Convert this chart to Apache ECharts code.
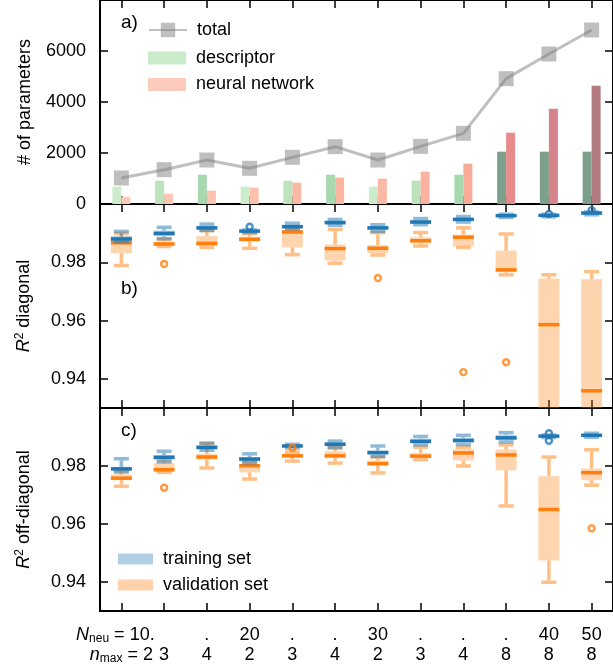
<!DOCTYPE html>
<html>
<head>
<meta charset="utf-8">
<script src="https://cdn.jsdelivr.net/npm/echarts@6.0.0/dist/echarts.min.js"></script>
<style>
html,body{margin:0;padding:0;background:#ffffff;}
#chart{width:613px;height:672px;}
</style>
</head>
<body>
<div id="chart"></div>
<script>
// ---------------- data ----------------
const categories = ['10/2','10/3','10/4','20/2','20/3','20/4','30/2','30/3','30/4','30/8','40/8','50/8'];
const nNeuLabels = ['10.', '', '.', '20', '.', '.', '30', '.', '.', '.', '40', '50'];
const nMaxLabels = ['2','3','4','2','3','4','2','3','4','8','8','8'];

const totalParams      = [1020, 1346, 1725, 1399, 1830, 2248, 1725, 2261, 2771, 4915, 5882, 6824];
const descriptorParams = [ 680,  915, 1150,  680,  915, 1150,  680,  915, 1150, 2052, 2052, 2052];
const networkParams    = [ 288,  405,  523,  641,  837, 1033,  993, 1268, 1582, 2797, 3739, 4641];

const r2Ticks = [0.94, 0.96, 0.98];

// box stats: [lower whisker, Q1, median, Q3, upper whisker]
const diagTrain = [
  [0.9870,0.9874,0.9880,0.9890,0.9906],
  [0.9881,0.9890,0.9899,0.9909,0.9920],
  [0.9909,0.9913,0.9918,0.9925,0.9931],
  [0.9902,0.9905,0.9907,0.9909,0.9911],
  [0.9915,0.9918,0.9922,0.9929,0.9934],
  [0.9927,0.9931,0.9936,0.9943,0.9947],
  [0.9906,0.9911,0.9918,0.9925,0.9929],
  [0.9929,0.9934,0.9938,0.9945,0.9950],
  [0.9938,0.9943,0.9947,0.9953,0.9957],
  [0.9954,0.9957,0.9960,0.9963,0.9965],
  [0.9956,0.9959,0.9961,0.9963,0.9965],
  [0.9963,0.9966,0.9969,0.9971,0.9973]
];
const diagTrainOutliers = [[3,0.9922],[10,0.9966],[11,0.9979]];

const diagVal = [
  [0.9789,0.9831,0.9867,0.9886,0.9899],
  [0.9854,0.9856,0.9863,0.9870,0.9879],
  [0.9851,0.9856,0.9865,0.9890,0.9909],
  [0.9848,0.9871,0.9879,0.9888,0.9899],
  [0.9826,0.9851,0.9904,0.9909,0.9912],
  [0.9797,0.9806,0.9847,0.9861,0.9913],
  [0.9825,0.9831,0.9848,0.9859,0.9902],
  [0.9856,0.9865,0.9874,0.9886,0.9902],
  [0.9851,0.9855,0.9886,0.9895,0.9918],
  [0.9757,0.9766,0.9774,0.9840,0.9897],
  [0.9000,0.9150,0.9586,0.9744,0.9757],
  [0.8900,0.9050,0.9359,0.9742,0.9768]
];
const diagValOutliers = [[1,0.9794],[6,0.9746],[8,0.9423],[9,0.9457]];

const offTrain = [
  [0.9779,0.9785,0.9790,0.9797,0.9825],
  [0.9814,0.9822,0.9830,0.9837,0.9851],
  [0.9854,0.9858,0.9864,0.9872,0.9879],
  [0.9811,0.9817,0.9824,0.9831,0.9842],
  [0.9862,0.9865,0.9869,0.9872,0.9875],
  [0.9863,0.9870,0.9875,0.9881,0.9886],
  [0.9833,0.9840,0.9846,0.9854,0.9869],
  [0.9873,0.9879,0.9885,0.9894,0.9902],
  [0.9874,0.9881,0.9888,0.9897,0.9906],
  [0.9883,0.9890,0.9897,0.9907,0.9915],
  [0.9898,0.9900,0.9903,0.9905,0.9907],
  [0.9899,0.9903,0.9906,0.9910,0.9913]
];
const offTrainOutliers = [[10,0.9913],[10,0.9887]];

const offVal = [
  [0.9730,0.9751,0.9758,0.9771,0.9783],
  [0.9778,0.9782,0.9787,0.9810,0.9819],
  [0.9793,0.9822,0.9831,0.9842,0.9877],
  [0.9755,0.9778,0.9801,0.9808,0.9815],
  [0.9817,0.9829,0.9835,0.9842,0.9848],
  [0.9810,0.9829,0.9835,0.9851,0.9863],
  [0.9776,0.9802,0.9808,0.9819,0.9831],
  [0.9822,0.9829,0.9834,0.9845,0.9865],
  [0.9800,0.9819,0.9845,0.9858,0.9865],
  [0.9662,0.9785,0.9838,0.9857,0.9873],
  [0.9399,0.9474,0.9650,0.9765,0.9831],
  [0.9734,0.9751,0.9777,0.9791,0.9856]
];
const offValOutliers = [[1,0.9725],[4,0.9862],[11,0.9585]];

// ---------------- styles ----------------
const descriptorColors = ['#cdeccd','#bde3bd','#a7d9b0','#cdeccd','#bde3bd','#a7d9b0','#cdeccd','#bde3bd','#a7d9b0','#7da08c','#7da08c','#7da08c'];
const networkColors = ['#fdcbb9','#fcc7b3','#fcc3ae','#fcc0ab','#fbbaa5','#fbb6a1','#fbb8a4','#fbb2a0','#f9ad98','#e88b8b','#d4848a','#b07a80'];

const FONT = "'Liberation Sans', Arial, Helvetica, sans-serif";
const BLUE = [31,119,180], ORANGE = [255,127,14];
const rgba = (c, a) => `rgba(${c[0]},${c[1]},${c[2]},${a})`;

const grids = [
  {left:100, top:0, width:518, height:204},
  {left:100, top:204, width:518, height:204},
  {left:100, top:408, width:518, height:203}
];

const axisLineStyle = {color:'#000', width:2};
const tickStyle = {color:'#000', width:1.5};

function makeX(gi, pos, withLabels) {
  const ax = {
    type:'category', gridIndex:gi, position:pos, data:categories, boundaryGap:true,
    axisLine:{show:true, onZero:false, lineStyle:axisLineStyle},
    axisTick:{show:true, inside:true, alignWithLabel:true, length:8, lineStyle:tickStyle},
    splitLine:{show:false},
    axisLabel:{show:false}
  };
  if (withLabels) {
    ax.axisLabel = {
      show:true, interval:0, margin:14, color:'#000', hideOverlap:false,
      formatter: function (v, idx) {
        if (idx === 0) {
          return '{i|N}{s|neu}{t| = ' + nNeuLabels[0] + '}{p| }\n{i|n}{s|max}{t| = ' + nMaxLabels[0] + '}';
        }
        const top = nNeuLabels[idx] === '' ? ' ' : nNeuLabels[idx];
        return '{t|' + top + '}\n{t|' + nMaxLabels[idx] + '}';
      },
      rich: {
        t:{fontSize:18, lineHeight:20, fontFamily:FONT, color:'#000'},
        i:{fontSize:18, lineHeight:20, fontFamily:FONT, color:'#000', fontStyle:'italic'},
        s:{fontSize:12, lineHeight:12, fontFamily:FONT, color:'#000', padding:[8,0,0,0]},
        p:{fontSize:18, lineHeight:20, width:12}
      }
    };
  }
  return ax;
}

function makeY(gi, pos, cfg) {
  const ax = {
    type:'value', gridIndex:gi, position:pos, min:cfg.min, max:cfg.max,
    axisLine:{show:true, onZero:false, lineStyle:axisLineStyle},
    axisTick:{show:true, inside:true, length:8, lineStyle:tickStyle},
    splitLine:{show:false},
    axisLabel:{show:false}
  };
  if (cfg.interval) ax.interval = cfg.interval;
  if (cfg.ticks) ax.axisTick.customValues = cfg.ticks;
  if (pos === 'left') {
    ax.axisLabel = {show:true, margin:14, color:'#000', fontSize:18, fontFamily:FONT,
                    formatter: cfg.fmt};
    if (cfg.hideMax) ax.axisLabel.showMaxLabel = false;
    if (cfg.ticks) ax.axisLabel.customValues = cfg.ticks;
    ax.name = cfg.name;
    ax.nameLocation = 'middle';
    ax.nameGap = 66;
    ax.nameRotate = 90;
    ax.nameTextStyle = {
      color:'#000', fontSize:18, fontFamily:FONT,
      rich: {
        i:{fontSize:18, lineHeight:20, fontFamily:FONT, color:'#000', fontStyle:'italic'},
        sup:{fontSize:12, lineHeight:12, fontFamily:FONT, color:'#000', padding:[0,0,8,0]},
        t:{fontSize:18, lineHeight:20, fontFamily:FONT, color:'#000'}
      }
    };
  }
  return ax;
}

function boxSeries(name, stats, col, gi) {
  return {
    type:'custom', name: name, xAxisIndex: gi*2, yAxisIndex: gi*2,
    data: stats.map((s, i) => [i].concat(s)),
    encode: {x:0, y:[1,5]},
    silent: true,
    renderItem: function (params, api) {
      const i = api.value(0);
      const band = api.size([1, 0])[0];
      const cs = params.coordSys;
      const top = cs.y, bot = cs.y + cs.height;
      const inside = y => y >= top - 0.5 && y <= bot + 0.5;
      const clamp = y => Math.max(top, Math.min(bot, y));
      const x = api.coord([i, api.value(3)])[0];
      const yLo = api.coord([i, api.value(1)])[1];
      const yQ1 = api.coord([i, api.value(2)])[1];
      const yMd = api.coord([i, api.value(3)])[1];
      const yQ3 = api.coord([i, api.value(4)])[1];
      const yHi = api.coord([i, api.value(5)])[1];
      const bw = band * 0.49, cw = band * 0.35;
      const soft = rgba(col, 0.5);
      const lw = 3.5;
      const ch = [];
      const q1c = clamp(yQ1), q3c = clamp(yQ3);
      if (q1c > q3c) {
        ch.push({type:'rect', shape:{x:x - bw/2, y:q3c, width:bw, height:q1c - q3c},
                 style:{fill: rgba(col, 0.33)}});
      }
      const lo1 = clamp(yQ1), lo2 = clamp(yLo - lw/2);
      if (lo2 > lo1) ch.push({type:'line', shape:{x1:x, y1:lo1, x2:x, y2:lo2}, style:{stroke:soft, lineWidth:lw}});
      const hi1 = clamp(yQ3), hi2 = clamp(yHi + lw/2);
      if (hi1 > hi2) ch.push({type:'line', shape:{x1:x, y1:hi1, x2:x, y2:hi2}, style:{stroke:soft, lineWidth:lw}});
      if (inside(yLo)) ch.push({type:'line', shape:{x1:x - cw/2, y1:yLo, x2:x + cw/2, y2:yLo}, style:{stroke:soft, lineWidth:lw}});
      if (inside(yHi)) ch.push({type:'line', shape:{x1:x - cw/2, y1:yHi, x2:x + cw/2, y2:yHi}, style:{stroke:soft, lineWidth:lw}});
      if (inside(yMd)) ch.push({type:'line', shape:{x1:x - bw/2, y1:yMd, x2:x + bw/2, y2:yMd}, style:{stroke:rgba(col, 1), lineWidth:lw}});
      return {type:'group', children: ch};
    }
  };
}

function outlierSeries(name, pts, col, gi) {
  return {
    type:'scatter', name: name, xAxisIndex: gi*2, yAxisIndex: gi*2,
    data: pts, symbol:'circle', symbolSize:6, silent:true,
    itemStyle:{color:'rgba(255,255,255,0)', borderColor: rgba(col, 1), borderWidth:2.4}
  };
}

const legendText = {fontSize:18, color:'#000', fontFamily:FONT, padding:[0,0,0,5]};

const option = {
  animation: false,
  backgroundColor: '#ffffff',
  textStyle: {fontFamily: FONT},
  grid: grids,
  xAxis: [
    makeX(0, 'bottom', false), makeX(0, 'top', false),
    makeX(1, 'bottom', false), makeX(1, 'top', false),
    makeX(2, 'bottom', true),  makeX(2, 'top', false)
  ],
  yAxis: [
    makeY(0, 'left', {min:0, max:8000, interval:2000, hideMax:true, name:'# of parameters', fmt: v => String(v)}),
    makeY(0, 'right', {min:0, max:8000, interval:2000}),
    makeY(1, 'left', {min:0.93, max:1.0, ticks:r2Ticks, name:'{i|R}{sup|2}{t| diagonal}', fmt: v => v.toFixed(2)}),
    makeY(1, 'right', {min:0.93, max:1.0, ticks:r2Ticks}),
    makeY(2, 'left', {min:0.93, max:1.0, ticks:r2Ticks, name:'{i|R}{sup|2}{t| off-diagonal}', fmt: v => v.toFixed(2)}),
    makeY(2, 'right', {min:0.93, max:1.0, ticks:r2Ticks})
  ],
  legend: [
    {data:['total'], left:148, top:21, orient:'vertical', itemWidth:38, itemHeight:18,
     padding:0, selectedMode:false, textStyle:legendText},
    {data:[{name:'descriptor', icon:'rect', itemStyle:{color:'#c9ebc9'}},
           {name:'neural network', icon:'rect', itemStyle:{color:'#fdcbbb'}}],
     left:148, top:49, orient:'vertical', itemWidth:38, itemHeight:13, itemGap:8.5,
     padding:0, selectedMode:false, textStyle:legendText},
    {data:[{name:'training set', icon:'rect', itemStyle:{color: rgba(BLUE, 0.35)}},
           {name:'validation set', icon:'rect', itemStyle:{color: rgba(ORANGE, 0.35)}}],
     left:118, top:550, orient:'vertical', itemWidth:35, itemHeight:11, itemGap:8,
     padding:0, selectedMode:false, textStyle:legendText}
  ],
  graphic: [
    {type:'text', left:121, top:13, style:{text:'a)', fill:'#000', font:'19px ' + FONT}},
    {type:'text', left:121, top:279, style:{text:'b)', fill:'#000', font:'19px ' + FONT}},
    {type:'text', left:121, top:421, style:{text:'c)', fill:'#000', font:'19px ' + FONT}}
  ],
  series: [
    {type:'bar', name:'descriptor', xAxisIndex:0, yAxisIndex:0, barWidth:9, barGap:'0%',
     itemStyle:{color:'#c9ebc9'},
     data: descriptorParams.map((v, i) => ({value:v, itemStyle:{color:descriptorColors[i]}}))},
    {type:'bar', name:'neural network', xAxisIndex:0, yAxisIndex:0, barWidth:9, barGap:'0%',
     itemStyle:{color:'#fdcbbb'},
     data: networkParams.map((v, i) => ({value:v, itemStyle:{color:networkColors[i]}}))},
    {type:'line', name:'total', xAxisIndex:0, yAxisIndex:0, data: totalParams,
     symbol:'rect', symbolSize:15, showAllSymbol:true,
     lineStyle:{color:'#808080', width:3, opacity:0.5},
     itemStyle:{color:'#808080', opacity:0.5}},
    boxSeries('validation set', diagVal, ORANGE, 1),
    outlierSeries('validation set', diagValOutliers, ORANGE, 1),
    boxSeries('training set', diagTrain, BLUE, 1),
    outlierSeries('training set', diagTrainOutliers, BLUE, 1),
    boxSeries('validation set', offVal, ORANGE, 2),
    outlierSeries('validation set', offValOutliers, ORANGE, 2),
    boxSeries('training set', offTrain, BLUE, 2),
    outlierSeries('training set', offTrainOutliers, BLUE, 2)
  ]
};

const chart = echarts.init(document.getElementById('chart'), null, {renderer:'canvas'});
chart.setOption(option);
</script>
</body>
</html>
